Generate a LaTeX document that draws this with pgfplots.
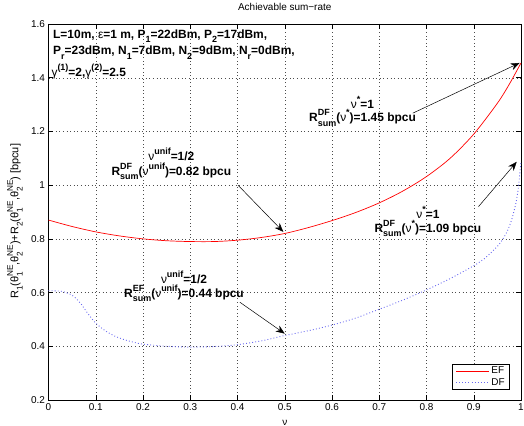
\documentclass[border=0pt]{standalone}
\usepackage{fontspec}
\setmainfont{Liberation Sans}
\usepackage{pgfplots}
\pgfplotsset{compat=1.18}
\usetikzlibrary{arrows.meta}
\makeatletter
\newcommand{\scr}{\fontsize{\strip@pt\dimexpr 0.75\dimexpr\f@size pt\relax\relax}{2}\selectfont}
\makeatother
\newcommand{\sps}[1]{\raisebox{0.5em}{\scr #1}}
\newcommand{\sbs}[1]{\raisebox{-0.38em}{\scr #1}}
\newcommand{\su}[2]{\begingroup\setbox0\hbox{\sps{#1}}\setbox2\hbox{\sbs{#2}}%
  \ifdim\wd0<\wd2 \wd0=0pt \box0\box2 \else \wd2=0pt \box2\box0\fi\endgroup}
\newcommand{\gk}[1]{{\mdseries #1}}
\definecolor{dfblue}{RGB}{105,105,240}
\begin{document}
\begin{tikzpicture}
\begin{axis}[
  at={(0,0)}, anchor=south west,
  scale only axis, width=472.5bp, height=376bp,
  xmin=0, xmax=1, ymin=0.2, ymax=1.6,
  xtick={0,0.1,0.2,0.3,0.4,0.5,0.6,0.7,0.8,0.9,1},
  ytick={0.2,0.4,0.6,0.8,1,1.2,1.4,1.6},
  grid=major,
  major grid style={black!70, dash pattern=on 0.8bp off 2.8bp, line width=0.4bp},
  tick align=inside, major tick length=5bp,
  axis line style={line width=0.6bp},
  every tick/.style={black, line width=0.5bp},
  /pgf/number format/assume math mode=true,
  ticklabel style={font=\fontsize{10}{12}\selectfont},
  title={Achievable sum−rate},
  title style={font=\fontsize{10}{12}\selectfont, at={(axis description cs:0.5,1)}, anchor=base, yshift=8bp},
  xlabel={ν},
  xlabel style={font=\fontsize{10}{12}\selectfont, at={(axis description cs:0.5,0)}, anchor=base, yshift=-25bp},
  ylabel={R\sbs{1}(θ\su{NE}{1},θ\su{NE}{2})+R\sbs{2}(θ\su{NE}{1},θ\su{NE}{2}) [bpcu]},
  ylabel style={font=\fontsize{11}{13}\selectfont, at={(axis description cs:-0.071,0.475)}, anchor=center},
  legend style={at={(0.9767,0.0266)}, anchor=south east, font=\fontsize{10}{12}\selectfont,
    draw=black, line width=0.5bp, inner xsep=3bp, inner ysep=1bp, row sep=-1bp},
  legend cell align=left,
  legend image code/.code={\draw[#1] (0bp,0bp) -- (33bp,0bp);},
  clip=false,
]
\addplot[red, line width=0.7bp, smooth] coordinates {
(0,0.870) (0.05,0.846) (0.1,0.826) (0.15,0.811) (0.2,0.800) (0.25,0.793) (0.3,0.790)
(0.35,0.790) (0.4,0.795) (0.45,0.805) (0.5,0.820) (0.55,0.842) (0.6,0.868) (0.65,0.898)
(0.7,0.934) (0.75,0.978) (0.8,1.032) (0.85,1.100) (0.9,1.190) (0.95,1.305) (0.975,1.375) (1.0,1.455)
};
\addlegendentry{EF}
\addplot[dfblue, line width=0.9bp, dash pattern=on 0.9bp off 2.2bp, smooth] coordinates {
(0,0.607) (0.02,0.606) (0.03,0.604) (0.04,0.598) (0.05,0.590) (0.06,0.575) (0.07,0.555)
(0.08,0.530) (0.09,0.507) (0.1,0.486) (0.12,0.458) (0.14,0.438) (0.16,0.425) (0.18,0.415)
(0.2,0.408) (0.25,0.400) (0.3,0.397) (0.35,0.399) (0.4,0.406) (0.45,0.420) (0.5,0.440)
(0.55,0.458) (0.6,0.479) (0.65,0.505) (0.7,0.538) (0.75,0.572) (0.8,0.610) (0.85,0.652)
(0.9,0.700) (0.925,0.730) (0.95,0.772) (0.96,0.795) (0.97,0.825) (0.98,0.870) (0.99,0.940)
(0.995,1.000) (1.0,1.090)
};
\addlegendentry{DF}
% top-left parameter text
\node[anchor=base west, font=\bfseries\fontsize{12}{14}\selectfont, inner sep=0] at (rel axis cs:0.0095,0.962)
  {L=10m, \gk{ε}=1 m, P\sbs{1}=22dBm, P\sbs{2}=17dBm,};
\node[anchor=base west, font=\bfseries\fontsize{12}{14}\selectfont, inner sep=0] at (rel axis cs:0.0095,0.9176)
  {P\sbs{r}=23dBm, N\sbs{1}=7dBm, N\sbs{2}=9dBm, N\sbs{r}=0dBm,};
\node[anchor=base west, font=\bfseries\fontsize{12}{14}\selectfont, inner sep=0] at (rel axis cs:0.006,0.860)
  {\gk{γ}\sps{(1)}=2,\gk{γ}\sps{(2)}=2.5};
% annotations
\tikzset{ann/.style={anchor=base, font=\bfseries\fontsize{12}{14}\selectfont, inner sep=0}}
\node[ann] at (axis cs:0.6646,1.287) {\gk{ν}\sps{*}=1};
\node[ann] at (axis cs:0.6646,1.236) {R\su{DF}{sum}(\gk{ν}\sps{*})=1.45 bpcu};
\node[ann] at (axis cs:0.26,1.09) {\gk{ν}\sps{unif}=1/2};
\node[ann] at (axis cs:0.26,1.0377) {R\su{DF}{sum}(\gk{ν}\sps{unif})=0.82 bpcu};
\node[ann] at (axis cs:0.2868,0.6345) {\gk{ν}\sps{unif}=1/2};
\node[ann] at (axis cs:0.2868,0.582) {R\su{EF}{sum}(\gk{ν}\sps{unif})=0.44 bpcu};
\node[ann] at (axis cs:0.803,0.8776) {\gk{ν}\sps{*}=1};
\node[ann] at (axis cs:0.803,0.8255) {R\su{DF}{sum}(\gk{ν}\sps{*})=1.09 bpcu};
\tikzset{arr/.style={-{Stealth[length=9bp,width=7bp]}, line width=0.5bp, black}}
\draw[arr] (axis cs:0.771,1.268) -- (axis cs:0.997,1.455);
\draw[arr] (axis cs:0.401,1.0) -- (axis cs:0.497,0.826);
\draw[arr] (axis cs:0.405,0.564) -- (axis cs:0.5,0.447);
\draw[arr] (axis cs:0.91,0.92) -- (axis cs:0.991,1.087);
\end{axis}
\pgfresetboundingbox
\path[use as bounding box] (-48.5bp,-26bp) rectangle (475.5bp,400bp);
\end{tikzpicture}
\end{document}
